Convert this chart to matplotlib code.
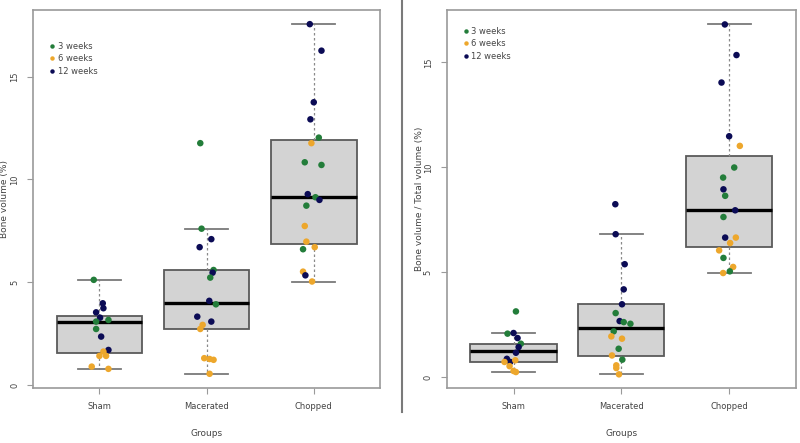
import matplotlib
matplotlib.use("Agg")
import matplotlib.pyplot as plt
from matplotlib.lines import Line2D

groups = ["Sham", "Macerated", "Chopped"]
weeks = ["3 weeks", "6 weeks", "12 weeks"]
week_colors = {"3 weeks": "#237d3a", "6 weeks": "#eda72c", "12 weeks": "#0b0b55"}

# ---- left panel: bone volume (%) ----
bv_q1 = [1.54, 2.71, 6.84]
bv_med = [3.08, 3.96, 9.13]
bv_q3 = [3.37, 5.59, 11.89]
bv_lo = [0.78, 0.55, 5.03]
bv_hi = [5.11, 7.60, 17.55]

# points: value, horizontal jitter, week code (3/6/12)
bv_sham_val = [5.11, 3.97, 3.73, 3.53, 3.27, 3.16, 3.08, 2.72, 2.35, 1.70, 1.62, 1.41, 1.41, 0.89, 0.78]
bv_sham_jit = [-0.053, 0.031, 0.037, -0.031, 0.006, 0.084, -0.031, -0.031, 0.016, 0.084, 0.037, 0.0, 0.062, -0.072, 0.084]
bv_sham_wk = [3, 12, 12, 12, 12, 3, 3, 3, 12, 12, 6, 6, 6, 6, 6]

bv_mac_val = [11.76, 7.60, 7.09, 6.70, 5.59, 5.46, 5.22, 4.09, 3.92, 3.32, 3.08, 2.92, 2.72, 1.30, 1.26, 1.22, 0.54]
bv_mac_jit = [-0.059, -0.047, 0.044, -0.065, 0.065, 0.056, 0.034, 0.025, 0.087, -0.087, 0.044, -0.037, -0.059, -0.022, 0.028, 0.065, 0.028]
bv_mac_wk = [3, 3, 12, 12, 3, 12, 3, 12, 3, 12, 12, 6, 6, 6, 6, 6, 6]

bv_chop_val = [17.55, 16.26, 13.75, 12.92, 12.03, 11.76, 10.83, 10.70, 9.28, 9.13, 9.00, 8.72, 7.73, 6.97, 6.70, 6.60, 5.51, 5.33, 5.03]
bv_chop_jit = [-0.037, 0.072, 0.0, -0.031, 0.047, -0.022, -0.084, 0.072, -0.056, 0.016, 0.053, -0.069, -0.084, -0.069, 0.009, -0.100, -0.100, -0.078, -0.016]
bv_chop_wk = [12, 12, 12, 12, 3, 6, 3, 3, 12, 3, 12, 3, 6, 6, 6, 3, 6, 12, 6]

# ---- right panel: bone volume / total volume (%) ----
bvtv_q1 = [0.72, 1.02, 6.20]
bvtv_med = [1.22, 2.35, 7.95]
bvtv_q3 = [1.59, 3.47, 10.53]
bvtv_lo = [0.24, 0.13, 4.96]
bvtv_hi = [2.12, 6.81, 16.81]

bvtv_sham_val = [3.13, 2.07, 2.10, 1.86, 1.59, 1.43, 1.16, 0.87, 0.72, 0.72, 0.80, 0.52, 0.29, 0.24]
bvtv_sham_jit = [0.022, -0.056, 0.0, 0.037, 0.068, 0.047, 0.022, -0.062, -0.031, -0.084, 0.016, -0.037, 0.0, 0.022]
bvtv_sham_wk = [3, 3, 12, 12, 3, 12, 12, 12, 12, 6, 6, 6, 6, 6]

bvtv_mac_val = [8.24, 6.81, 5.38, 4.18, 3.47, 3.05, 2.67, 2.62, 2.54, 2.18, 1.94, 1.83, 1.35, 1.03, 0.83, 0.56, 0.43, 0.13]
bvtv_mac_jit = [-0.056, -0.053, 0.031, 0.022, 0.006, -0.053, -0.016, 0.022, 0.084, -0.071, -0.093, 0.006, -0.025, -0.087, 0.009, -0.047, -0.047, -0.022]
bvtv_mac_wk = [12, 12, 12, 12, 12, 3, 12, 3, 3, 3, 6, 6, 3, 6, 3, 6, 6, 6]

bvtv_chop_val = [16.81, 15.35, 14.04, 11.48, 11.02, 9.99, 9.51, 8.95, 8.64, 7.95, 7.63, 6.65, 6.65, 6.39, 6.04, 5.68, 5.25, 5.04, 4.96]
bvtv_chop_jit = [-0.040, 0.068, -0.071, 0.0, 0.099, 0.047, -0.056, -0.053, -0.037, 0.056, -0.053, -0.037, 0.062, 0.009, -0.093, -0.053, 0.037, 0.006, -0.056]
bvtv_chop_wk = [12, 12, 12, 12, 6, 3, 3, 12, 3, 12, 3, 12, 6, 6, 6, 3, 6, 3, 6]

wk_name = {3: "3 weeks", 6: "6 weeks", 12: "12 weeks"}
TXT = "#444444"
FRAME = "#9a9a9a"


def draw_panel(ax, q1, med, q3, lo, hi, pts, ylabel, ylim, leg_anchor, ylab_x):
    stats = []
    for i, g in enumerate(groups):
        stats.append(dict(label=g, q1=q1[i], med=med[i], q3=q3[i],
                          whislo=lo[i], whishi=hi[i], fliers=[]))
    ax.bxp(stats, positions=[1, 2, 3], widths=0.8, patch_artist=True,
           showfliers=False,
           boxprops=dict(facecolor="#d3d3d3", edgecolor="#5a5a5a", linewidth=1.3),
           medianprops=dict(color="black", linewidth=2.4),
           whiskerprops=dict(color="#8a8a8a", linewidth=0.9, linestyle=(0, (2, 2))),
           capprops=dict(color="#7a7a7a", linewidth=1.3),
           capwidths=0.4, zorder=1)

    for i, (vals, jit, wks) in enumerate(pts):
        for v, j, w in zip(vals, jit, wks):
            ax.scatter(i + 1 + j, v, s=22, color=week_colors[wk_name[w]],
                       edgecolors="none", zorder=3)

    ax.set_xlim(0.38, 3.62)
    ax.set_ylim(*ylim)
    ax.set_yticks([0, 5, 10, 15])
    ax.set_yticklabels(["0", "5", "10", "15"], rotation=90, va="center")
    ax.set_xticks([1, 2, 3])
    ax.set_xticklabels(groups)
    ax.tick_params(axis="both", labelsize=6, colors=FRAME, labelcolor=TXT,
                   length=4, width=0.8, pad=6)
    for sp in ax.spines.values():
        sp.set_color(FRAME)
        sp.set_linewidth(1.2)
    ax.set_xlabel("Groups", fontsize=6.5, color=TXT, labelpad=13)
    ax.set_ylabel(ylabel, fontsize=6.5, color=TXT)
    ax.yaxis.set_label_coords(ylab_x, 0.5)

    handles = [Line2D([], [], marker="o", linestyle="none", markersize=3.2,
                      markerfacecolor=week_colors[w], markeredgecolor="none",
                      label=w) for w in weeks]
    ax.legend(handles=handles, loc="upper left", bbox_to_anchor=leg_anchor,
              frameon=False, fontsize=6, handlelength=0.8, handletextpad=0.3,
              labelspacing=0.45, borderaxespad=0, labelcolor=TXT)


fig = plt.figure(figsize=(8, 4.43), dpi=100)
ax1 = fig.add_axes([0.04125, 0.1242, 0.434, 0.8533])
ax2 = fig.add_axes([0.5584, 0.1242, 0.4366, 0.8533])

draw_panel(ax1, bv_q1, bv_med, bv_q3, bv_lo, bv_hi,
           [(bv_sham_val, bv_sham_jit, bv_sham_wk),
            (bv_mac_val, bv_mac_jit, bv_mac_wk),
            (bv_chop_val, bv_chop_jit, bv_chop_wk)],
           "Bone volume (%)", (-0.15, 18.24), (0.035, 0.925), -0.068)

draw_panel(ax2, bvtv_q1, bvtv_med, bvtv_q3, bvtv_lo, bvtv_hi,
           [(bvtv_sham_val, bvtv_sham_jit, bvtv_sham_wk),
            (bvtv_mac_val, bvtv_mac_jit, bvtv_mac_wk),
            (bvtv_chop_val, bvtv_chop_jit, bvtv_chop_wk)],
           "Bone volume / Total volume (%)", (-0.52, 17.5), (0.035, 0.965), -0.065)

# divider between the two panels
fig.add_artist(Line2D([0.502, 0.502], [1.0, 1 - 412 / 443],
                      transform=fig.transFigure, color="#7a7a7a", linewidth=1.5))

fig.savefig("out.png", dpi=100)
